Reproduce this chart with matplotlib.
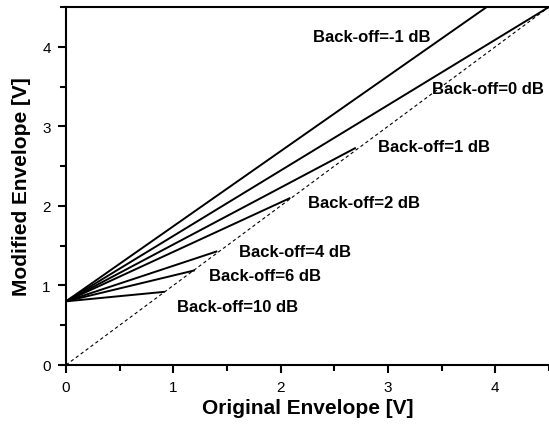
import matplotlib
matplotlib.use('Agg')
import matplotlib.pyplot as plt
from matplotlib.ticker import MultipleLocator

# Back-off curves: all start at (0, 0.8) and end near the y=x line
backoff_labels = ['Back-off=-1 dB', 'Back-off=0 dB', 'Back-off=1 dB', 'Back-off=2 dB',
                  'Back-off=4 dB', 'Back-off=6 dB', 'Back-off=10 dB']
start_x = 0.0
start_y = 0.8
end_x = [3.92, 4.5, 2.70, 2.09, 1.41, 1.20, 0.92]
end_y = [4.5, 4.5, 2.73, 2.10, 1.43, 1.19, 0.92]

# where each label sits (centre of text, data coords)
label_x = [2.85, 3.93, 3.43, 2.78, 2.13, 1.85, 1.60]
label_y = [4.13, 3.47, 2.75, 2.04, 1.43, 1.12, 0.73]

diag = [0.0, 4.5]

plt.rcParams['font.family'] = ['Liberation Sans', 'DejaVu Sans']

fig = plt.figure(figsize=(5.49, 4.27), dpi=100)
ax = fig.add_axes([0.1202, 0.1429, 0.8798, 0.8384])

for x1, y1 in zip(end_x, end_y):
    ax.plot([start_x, x1], [start_y, y1], color='black', linewidth=1.4, solid_capstyle='butt')

ax.plot(diag, diag, color='black', linewidth=0.8, linestyle=(0, (3, 2.5)))

for txt, tx, ty in zip(backoff_labels, label_x, label_y):
    ax.text(tx, ty, txt, ha='center', va='center', fontsize=12, fontweight='bold')

ax.set_xlim(0, 4.5)
ax.set_ylim(0, 4.5)
ax.xaxis.set_major_locator(MultipleLocator(1))
ax.xaxis.set_minor_locator(MultipleLocator(0.5))
ax.yaxis.set_major_locator(MultipleLocator(1))
ax.yaxis.set_minor_locator(MultipleLocator(0.5))
ax.tick_params(which='major', direction='out', length=6, width=1.5, labelsize=11, pad=5)
ax.tick_params(which='minor', direction='out', length=4, width=1.5)

for side in ['left', 'bottom', 'top']:
    ax.spines[side].set_linewidth(1.5)
ax.spines['right'].set_visible(False)

ax.set_xlabel('Original Envelope [V]', fontsize=15, fontweight='bold', labelpad=3)
ax.set_ylabel('Modified Envelope [V]', fontsize=15, fontweight='bold', labelpad=8)

fig.savefig('out.png', dpi=100)
